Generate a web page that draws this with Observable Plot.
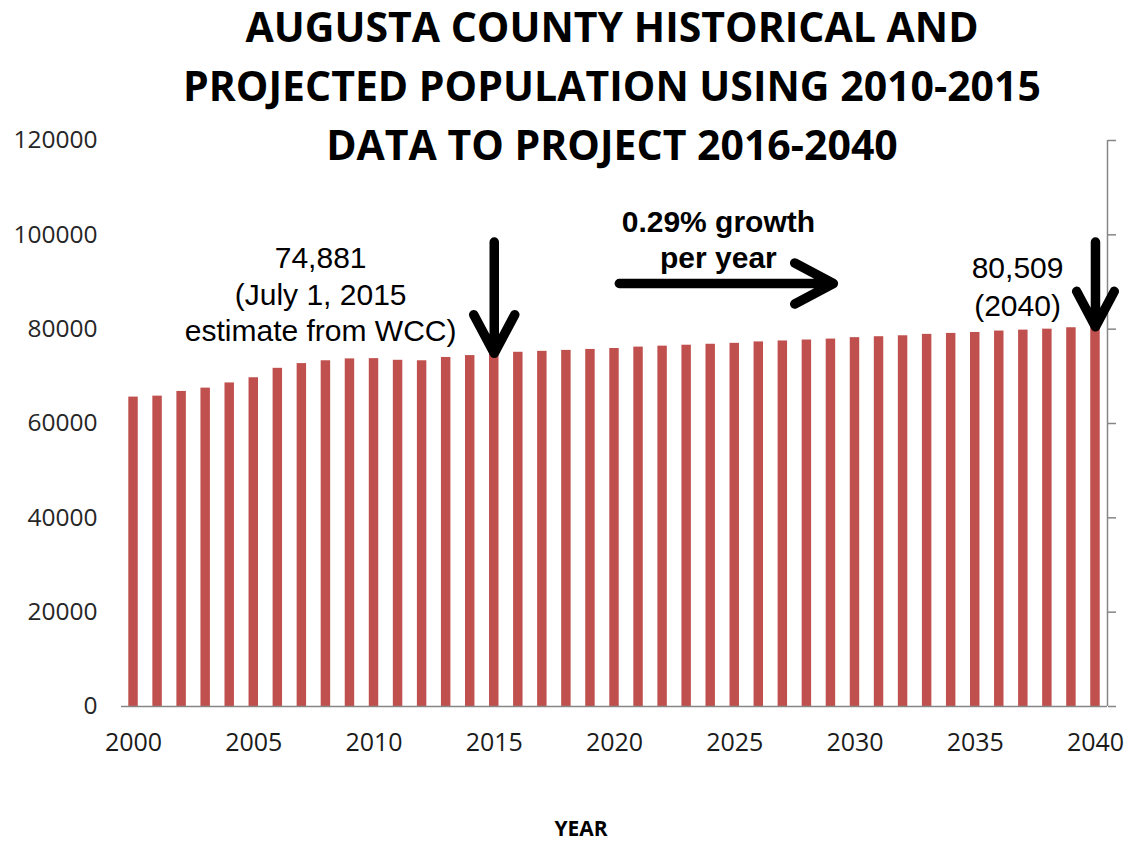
<!DOCTYPE html>
<html>
<head>
<meta charset="utf-8">
<script src="https://cdn.jsdelivr.net/npm/d3@7"></script>
<script src="https://cdn.jsdelivr.net/npm/@observablehq/plot@0.6"></script>
<style>
  html, body { margin: 0; padding: 0; background: #fff; overflow: hidden; }
  #wrap { position: relative; width: 1128px; height: 842px; }
  #title { position: absolute; left: 96px; width: 1032px; top: -3px; text-align: center;
           font: 700 41px "Open Sans", sans-serif; line-height: 59px; color: #000; white-space: nowrap; }
  #xlabel { position: absolute; left: 481px; width: 200px; top: 818px; text-align: center;
            font: 700 21px "Open Sans", sans-serif; line-height: 21px; color: #000; }
</style>
</head>
<body>
<div id="wrap">
  <div id="chart"></div>
  <div id="title">AUGUSTA COUNTY HISTORICAL AND<br>PROJECTED POPULATION USING 2010-2015<br>DATA TO PROJECT 2016-2040</div>
  <div id="xlabel">YEAR</div>
</div>
<script>
// ---- data ----
const years = [2000, 2001, 2002, 2003, 2004, 2005, 2006, 2007, 2008, 2009,
               2010, 2011, 2012, 2013, 2014, 2015, 2016, 2017, 2018, 2019,
               2020, 2021, 2022, 2023, 2024, 2025, 2026, 2027, 2028, 2029,
               2030, 2031, 2032, 2033, 2034, 2035, 2036, 2037, 2038, 2039, 2040];
const population = [65600, 65800, 66800, 67500, 68600, 69700, 71700, 72700, 73300, 73700,
                    73750, 73400, 73300, 74000, 74400, 74881, 75100, 75300, 75500, 75700,
                    75900, 76200, 76400, 76600, 76800, 77000, 77300, 77500, 77700, 77900,
                    78200, 78400, 78600, 78900, 79100, 79300, 79600, 79800, 80000, 80300, 80509];
const xTicks = [2000, 2005, 2010, 2015, 2020, 2025, 2030, 2035, 2040];
const yTicks = [0, 20000, 40000, 60000, 80000, 100000, 120000];

const noteTexts = [
  {year: 2007.78, value: 87660, text: "74,881\n(July 1, 2015\nestimate from WCC)", weight: "normal", lh: 1.22},
  {year: 2024.32, value: 99216, text: "0.29% growth\nper year", weight: "bold", lh: 1.2},
  {year: 2036.76, value: 89460, text: "80,509\n(2040)", weight: "normal", lh: 1.27}
];
const downArrows = [
  {year: 2015, from: 106000, to: 74881},
  {year: 2040, from: 106000, to: 80509}
];
const growthArrow = [{from: 2020.2, to: 2029.1, value: 89680}];

const data = years.map((year, i) => ({year, pop: population[i]}));
const gray = "#868686";
const arrowStyle = {stroke: "#000", strokeWidth: 9.5, headAngle: 56, headLength: 6.9,
                    strokeLinecap: "round", strokeLinejoin: "round"};

const chart = Plot.plot({
  width: 1128,
  height: 842,
  marginLeft: 121,
  marginRight: 21,
  marginTop: 140,
  marginBottom: 136,
  style: {background: "transparent", overflow: "visible"},
  x: {type: "linear", domain: [1999.5, 2040.5]},
  y: {domain: [0, 120000]},
  marks: [
    Plot.rectY(data, {x1: d => d.year - 0.5, x2: d => d.year + 0.5, y: "pop",
                      insetLeft: 7.3, insetRight: 7.3, fill: "#C0504D"}),
    Plot.ruleY([0], {stroke: gray, strokeWidth: 1.5}),
    Plot.ruleX([2040.5], {stroke: gray, strokeWidth: 1.5}),
    Plot.axisY({anchor: "right", ticks: yTicks, tickSize: 8, tickFormat: () => "",
                stroke: gray, strokeWidth: 1.5, label: null}),
    Plot.axisY({anchor: "left", ticks: yTicks, tickSize: 0, tickPadding: 24,
                tickFormat: d => String(d), fontSize: 24.5, fontFamily: "Open Sans",
                fill: "#262626", label: null}),
    Plot.axisX({anchor: "bottom", ticks: xTicks, tickSize: 0, tickPadding: 27,
                tickFormat: d => String(d), fontSize: 25, fontFamily: "Open Sans",
                fill: "#1a1a1a", label: null}),
    Plot.arrow(downArrows, {x1: "year", x2: "year", y1: "from", y2: "to",
                            insetStart: 35.5, ...arrowStyle}),
    Plot.arrow(growthArrow, {x1: "from", x2: "to", y1: "value", y2: "value", ...arrowStyle}),
    ...noteTexts.map(n => Plot.text([n], {x: "year", y: "value", text: "text",
                      fontSize: 30, fontFamily: "Liberation Sans", fontWeight: n.weight,
                      lineHeight: n.lh, fill: "#000", textAnchor: "middle"}))
  ]
});
document.getElementById("chart").appendChild(chart);
</script>
</body>
</html>
